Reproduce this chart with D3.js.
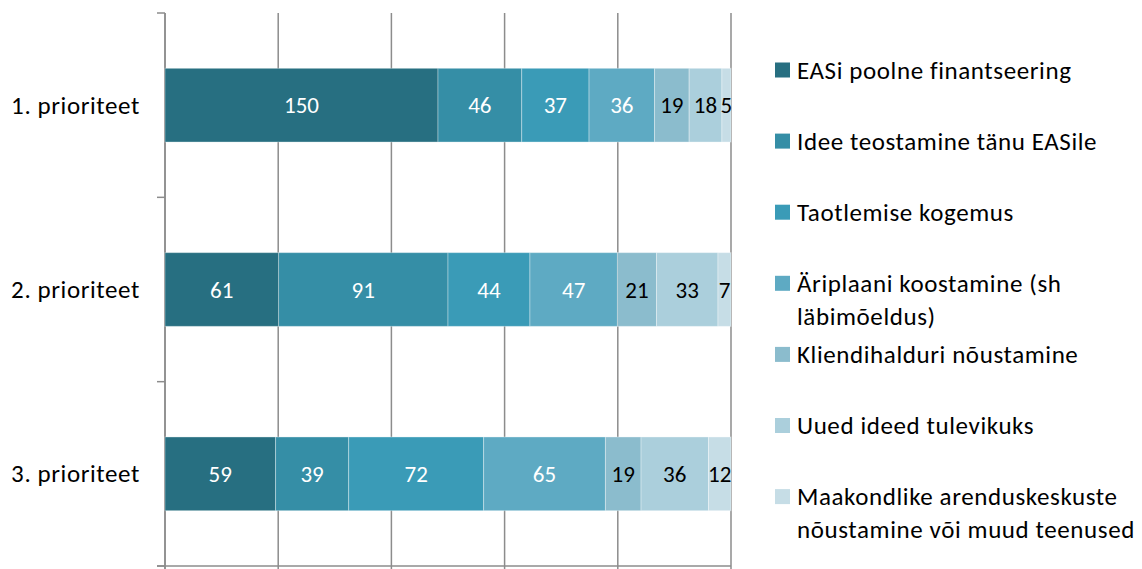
<!DOCTYPE html>
<html>
<head>
<meta charset="utf-8">
<script src="https://cdn.jsdelivr.net/npm/d3@7"></script>
<style>
  html, body { margin: 0; padding: 0; background: #fff; }
  svg text { font-family: Carlito, Lato, "Open Sans", sans-serif; }
</style>
</head>
<body>
<div id="chart"></div>
<script>
const categories = ["1. prioriteet", "2. prioriteet", "3. prioriteet"];
const seriesNames = [
    "EASi poolne finantseering",
    "Idee teostamine tänu EASile",
    "Taotlemise kogemus",
    "Äriplaani koostamine (sh läbimõeldus)",
    "Kliendihalduri nõustamine",
    "Uued ideed tulevikuks",
    "Maakondlike arenduskeskuste nõustamine või muud teenused"
];
const legendLines = [
    ["EASi poolne finantseering"],
    ["Idee teostamine tänu EASile"],
    ["Taotlemise kogemus"],
    ["Äriplaani koostamine (sh", "läbimõeldus)"],
    ["Kliendihalduri nõustamine"],
    ["Uued ideed tulevikuks"],
    ["Maakondlike arenduskeskuste", "nõustamine või muud teenused"]
];
// values per series, in category order
const finants = [150, 61, 59];
const teostamine = [46, 91, 39];
const kogemus = [37, 44, 72];
const ariplaan = [36, 47, 65];
const kliendihaldur = [19, 21, 19];
const uuedIdeed = [18, 33, 36];
const maakond = [5, 7, 12];
const seriesValues = [finants, teostamine, kogemus, ariplaan, kliendihaldur, uuedIdeed, maakond];

const colors = ["#276f81", "#358ea6", "#3a9bb7", "#5eaac3", "#8bbccd", "#abcfdc", "#c6dde6"];
const labelColors = ["#fff", "#fff", "#fff", "#fff", "#000", "#000", "#000"];

const W = 1142, H = 569;
const plot = { left: 165, right: 731, top: 13, bottom: 566 };

const svg = d3.select("#chart")
    .append("svg")
    .attr("width", W)
    .attr("height", H);

// 100% stacked
const rows = categories.map((c, i) => {
    const row = { cat: c };
    seriesNames.forEach((s, j) => row[s] = seriesValues[j][i]);
    return row;
});
const stack = d3.stack().keys(seriesNames).offset(d3.stackOffsetExpand);
const stacked = stack(rows);

const x = d3.scaleLinear().domain([0, 1]).range([plot.left, plot.right]);
const y = d3.scaleBand().domain(categories).range([plot.top, plot.bottom]).paddingInner(0.6).paddingOuter(0.3);
const yOuter = d3.scaleBand().domain(categories).range([plot.top, plot.bottom]);

// gridlines
svg.append("g")
    .selectAll("line")
    .data(x.ticks(5))
    .enter()
    .append("line")
    .attr("x1", d => x(d)).attr("x2", d => x(d))
    .attr("y1", plot.top).attr("y2", plot.bottom + 6)
    .attr("stroke", "#8c8c8c")
    .attr("stroke-width", 1.5);

// left axis
svg.append("line")
    .attr("x1", plot.left).attr("x2", plot.left)
    .attr("y1", plot.top).attr("y2", plot.bottom + 6)
    .attr("stroke", "#8c8c8c").attr("stroke-width", 1.5);
const yTicks = categories.map(c => yOuter(c)).concat([plot.bottom]);
svg.append("g")
    .selectAll("line")
    .data(yTicks)
    .enter()
    .append("line")
    .attr("x1", plot.left - 8).attr("x2", plot.left)
    .attr("y1", d => d).attr("y2", d => d)
    .attr("stroke", "#8c8c8c").attr("stroke-width", 1.5);

// bottom axis
svg.append("line")
    .attr("x1", plot.left - 8).attr("x2", plot.right)
    .attr("y1", plot.bottom).attr("y2", plot.bottom)
    .attr("stroke", "#8c8c8c").attr("stroke-width", 1.5);

// category labels
svg.append("g")
    .selectAll("text")
    .data(categories)
    .enter()
    .append("text")
    .attr("x", 140)
    .attr("y", d => y(d) + y.bandwidth() / 2)
    .attr("text-anchor", "end")
    .attr("dominant-baseline", "central")
    .style("font-size", "25px")
    .style("letter-spacing", "0.6px")
    .style("fill", "#000")
    .text(d => d);

// bars
const layers = svg.append("g")
    .selectAll("g")
    .data(stacked)
    .enter()
    .append("g");

layers.selectAll("rect")
    .data((d, j) => d.map(p => ({ p, j })))
    .enter()
    .append("rect")
    .attr("x", d => x(d.p[0]))
    .attr("y", d => y(d.p.data.cat))
    .attr("width", d => x(d.p[1]) - x(d.p[0]))
    .attr("height", y.bandwidth())
    .attr("fill", d => colors[d.j])
    .attr("stroke", "rgba(255,255,255,0.35)")
    .attr("stroke-width", 1);

layers.selectAll("text")
    .data((d, j) => d.map(p => ({ p, j })))
    .enter()
    .append("text")
    .attr("x", d => (x(d.p[0]) + x(d.p[1])) / 2)
    .attr("y", d => y(d.p.data.cat) + y.bandwidth() / 2)
    .attr("text-anchor", "middle")
    .attr("dominant-baseline", "central")
    .style("font-size", "23px")
    .style("fill", d => labelColors[d.j])
    .text(d => seriesValues[d.j][categories.indexOf(d.p.data.cat)]);

// legend
const legend = svg.append("g")
    .selectAll("g")
    .data(seriesNames)
    .enter()
    .append("g")
    .attr("transform", (d, i) => `translate(775, ${70 + i * 71.1})`);

legend.append("rect")
    .attr("x", 0).attr("y", -7.5)
    .attr("width", 15).attr("height", 15)
    .attr("fill", (d, i) => colors[i]);

legend.append("text")
    .attr("x", 22)
    .attr("y", 0)
    .style("font-size", "25px")
    .style("letter-spacing", "0.6px")
    .style("fill", "#000")
    .each(function(d, i) {
        d3.select(this).selectAll("tspan")
            .data(legendLines[i])
            .enter()
            .append("tspan")
            .attr("x", 22)
            .attr("dy", (t, k) => k === 0 ? "0.35em" : "33px")
            .text(t => t);
    });
</script>
</body>
</html>
